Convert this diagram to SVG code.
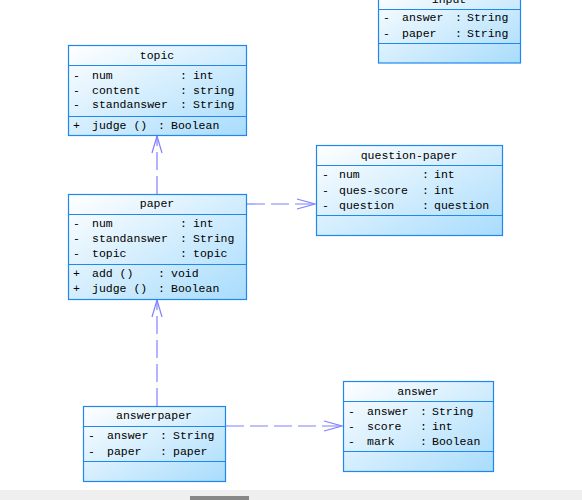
<svg xmlns="http://www.w3.org/2000/svg" width="582" height="500" viewBox="0 0 582 500">
<style>
.box{fill:url(#g);stroke:#1e88f0;stroke-width:1.2}
.sep{stroke:#1e88f0;stroke-width:1.2}
text{font-family:"Liberation Mono","DejaVu Sans Mono",monospace;font-size:11.5px;fill:#000}
.h{text-anchor:middle}
.c{stroke:#8080ff;stroke-width:1.2;fill:none;stroke-dasharray:18 6}
.a{stroke:#8080ff;stroke-width:1.2;fill:none}
</style>
<defs>
<linearGradient id="g" x1="0" y1="0" x2="1" y2="1">
<stop offset="0" stop-color="#ffffff"/>
<stop offset="1" stop-color="#a8dcfc"/>
</linearGradient>
</defs>
<rect width="582" height="500" fill="#fff"/>

<g id="connectors">
<line class="c" x1="157" y1="194" x2="157" y2="136"/>
<polyline class="a" points="152,153 157,136 162,153"/>
<line class="c" x1="247" y1="204" x2="315" y2="204"/>
<polyline class="a" points="297,199 315,204 297,209"/>
<line class="c" x1="157" y1="406" x2="157" y2="300"/>
<polyline class="a" points="152,317 157,300 162,317"/>
<line class="c" x1="226" y1="426" x2="342" y2="426"/>
<polyline class="a" points="324,421 342,426 324,431"/>
</g>

<g id="input">
<rect class="box" x="378.5" y="-11" width="142" height="74"/>
<text class="h" x="449" y="3">input</text>
<line class="sep" x1="378.5" y1="9.5" x2="520.5" y2="9.5"/>
<text x="383" y="21">-</text><text x="402" y="21">answer</text><text x="455" y="21">:</text><text x="467" y="21">String</text>
<text x="383" y="37">-</text><text x="402" y="37">paper</text><text x="455" y="37">:</text><text x="467" y="37">String</text>
<line class="sep" x1="378.5" y1="43.5" x2="520.5" y2="43.5"/>
</g>

<g id="topic">
<rect class="box" x="68.5" y="45.5" width="178" height="90"/>
<text class="h" x="157" y="59">topic</text>
<line class="sep" x1="68.5" y1="65.5" x2="246.5" y2="65.5"/>
<text x="73" y="79">-</text><text x="92" y="79">num</text><text x="180" y="79">:</text><text x="193" y="79">int</text>
<text x="73" y="94">-</text><text x="92" y="94">content</text><text x="180" y="94">:</text><text x="193" y="94">string</text>
<text x="73" y="108">-</text><text x="92" y="108">standanswer</text><text x="180" y="108">:</text><text x="193" y="108">String</text>
<line class="sep" x1="68.5" y1="116.5" x2="246.5" y2="116.5"/>
<text x="73" y="129">+</text><text x="92" y="129">judge ()</text><text x="158" y="129">:</text><text x="171" y="129">Boolean</text>
</g>

<g id="paper">
<rect class="box" x="68.5" y="194.5" width="178" height="105"/>
<text class="h" x="157" y="207">paper</text>
<line class="sep" x1="68.5" y1="214.5" x2="246.5" y2="214.5"/>
<text x="73" y="227">-</text><text x="92" y="227">num</text><text x="180" y="227">:</text><text x="193" y="227">int</text>
<text x="73" y="242">-</text><text x="92" y="242">standanswer</text><text x="180" y="242">:</text><text x="193" y="242">String</text>
<text x="73" y="257">-</text><text x="92" y="257">topic</text><text x="180" y="257">:</text><text x="193" y="257">topic</text>
<line class="sep" x1="68.5" y1="264.5" x2="246.5" y2="264.5"/>
<text x="73" y="277">+</text><text x="92" y="277">add ()</text><text x="158" y="277">:</text><text x="171" y="277">void</text>
<text x="73" y="292">+</text><text x="92" y="292">judge ()</text><text x="158" y="292">:</text><text x="171" y="292">Boolean</text>
</g>

<g id="question-paper">
<rect class="box" x="316.5" y="145.5" width="186" height="90"/>
<text class="h" x="409" y="159">question-paper</text>
<line class="sep" x1="316.5" y1="165.5" x2="502.5" y2="165.5"/>
<text x="322" y="178">-</text><text x="339" y="178">num</text><text x="422" y="178">:</text><text x="434" y="178">int</text>
<text x="322" y="194">-</text><text x="339" y="194">ques-score</text><text x="422" y="194">:</text><text x="434" y="194">int</text>
<text x="322" y="209">-</text><text x="339" y="209">question</text><text x="422" y="209">:</text><text x="434" y="209">question</text>
<line class="sep" x1="316.5" y1="215.5" x2="502.5" y2="215.5"/>
</g>

<g id="answerpaper">
<rect class="box" x="83.5" y="406.5" width="142" height="75"/>
<text class="h" x="154" y="419">answerpaper</text>
<line class="sep" x1="83.5" y1="426.5" x2="225.5" y2="426.5"/>
<text x="88" y="439">-</text><text x="107" y="439">answer</text><text x="160" y="439">:</text><text x="173" y="439">String</text>
<text x="88" y="455">-</text><text x="107" y="455">paper</text><text x="160" y="455">:</text><text x="173" y="455">paper</text>
<line class="sep" x1="83.5" y1="461.5" x2="225.5" y2="461.5"/>
</g>

<g id="answer">
<rect class="box" x="343.5" y="381.5" width="150" height="90"/>
<text class="h" x="418" y="395">answer</text>
<line class="sep" x1="343.5" y1="401.5" x2="493.5" y2="401.5"/>
<text x="348" y="415">-</text><text x="367" y="415">answer</text><text x="420" y="415">:</text><text x="432" y="415">String</text>
<text x="348" y="430">-</text><text x="367" y="430">score</text><text x="420" y="430">:</text><text x="432" y="430">int</text>
<text x="348" y="445">-</text><text x="367" y="445">mark</text><text x="420" y="445">:</text><text x="432" y="445">Boolean</text>
<line class="sep" x1="343.5" y1="451.5" x2="493.5" y2="451.5"/>
</g>

<rect x="0" y="490" width="582" height="10" fill="#efefef"/>
<rect x="190" y="496" width="59" height="4" fill="#888888"/>
</svg>
